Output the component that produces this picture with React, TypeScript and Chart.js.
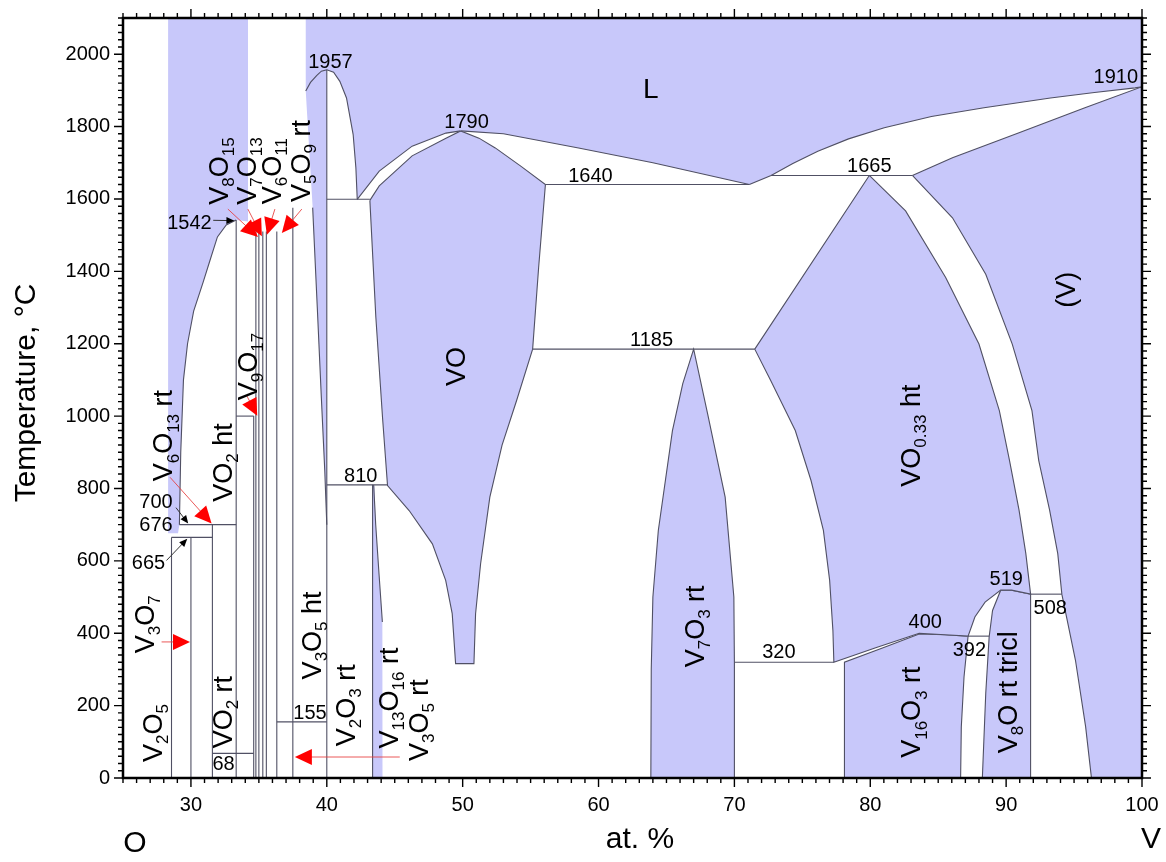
import React, { useEffect, useRef } from 'react';
import { Chart, registerables } from 'chart.js';

Chart.register(...registerables);

type P = [number, number];

const FONT = "'Liberation Sans', Arial, Helvetica, sans-serif";
const BLUE = 'rgb(200,200,250)';
const LINE = 'rgb(80,80,100)';

const X_MIN = 25;
const X_MAX = 100;
const Y_MIN = 0;
const Y_MAX = 2100;
const xMajorTicks = [30, 40, 50, 60, 70, 80, 90, 100];
const yMajorTicks = [0, 200, 400, 600, 800, 1000, 1200, 1400, 1600, 1800, 2000];

// ---------- single-phase (shaded) regions ----------
const liquidLeft: P[] = [[28.32, 2100], [34.2, 2100], [34.2, 1538], [33.33, 1542], [32.6, 1528], [31.95, 1495], [31.4, 1430], [30.9, 1370], [30.2, 1290], [29.75, 1200], [29.45, 1100], [29.25, 900], [29.15, 700], [29.05, 676], [28.32, 676]];
const liquidMain: P[] = [[38.45, 2100], [100, 2100], [100, 1910], [99.49, 1907], [96.5, 1894], [93.26, 1879], [88.37, 1852], [84.5, 1828], [81.03, 1797], [78.4, 1766], [76.14, 1732], [74.3, 1698], [72.7, 1665], [71.1, 1640], [64, 1700], [58.53, 1741], [53, 1780], [49.85, 1788], [48.77, 1782], [46.28, 1746], [43.86, 1677], [42.24, 1599], [42.14, 1686], [41.94, 1778], [41.45, 1879], [40.96, 1925], [40.5, 1950], [40, 1957], [40, 700], [39.85, 850], [39.6, 1050], [39.3, 1300], [38.96, 1576], [38.45, 1898]];
const voRegion: P[] = [[43.17, 1596], [43.86, 1636], [46.28, 1719], [48.77, 1768], [49.85, 1788], [51.2, 1768], [52.4, 1741], [54.3, 1690], [56.09, 1640], [55.59, 1410], [55.15, 1185], [53.97, 1043], [52.9, 920], [52.0, 776], [51.32, 592], [50.95, 454], [50.83, 316], [49.48, 316], [49.23, 454], [48.75, 546], [47.77, 647], [46.06, 739], [44.47, 808], [44.1, 997], [43.61, 1273], [43.17, 1596]];
const vo033Region: P[] = [[79.93, 1665], [71.5, 1185], [72.68, 1098], [74.48, 960], [75.64, 822], [76.55, 684], [77.01, 546], [77.25, 408], [77.32, 320], [80.4, 360], [83.6, 400], [85.5, 396], [87.2, 392], [87.7, 445], [88.45, 486], [89.6, 519], [90.4, 519], [91.8, 508], [91.45, 620], [90.95, 740], [90.25, 877], [89.5, 1015], [88.0, 1199], [85.55, 1383], [82.6, 1567], [79.93, 1665]];
const vSolidRegion: P[] = [[83.1, 1665], [86.05, 1714], [90.95, 1783], [95.8, 1852], [100, 1910], [100, 0], [96.28, 0], [95.85, 142], [95.1, 326], [94.1, 508], [93.8, 620], [93.2, 740], [92.4, 877], [91.9, 1015], [90.45, 1199], [88.5, 1392], [86.05, 1548], [83.1, 1665]];
const v16o3Region: P[] = [[78.1, 0], [78.1, 320], [80.8, 358], [83.6, 398], [85.5, 396], [87.2, 392], [86.9, 279], [86.7, 141], [86.65, 0], [78.1, 0]];
const v8oRegion: P[] = [[88.25, 0], [88.5, 234], [88.75, 390], [89.0, 463], [89.6, 519], [90.4, 519], [91.8, 508], [91.8, 0], [88.25, 0]];
const v7o3Region: P[] = [[63.85, 0], [63.88, 300], [64.0, 500], [64.4, 684], [65.44, 960], [66.2, 1090], [67.0, 1185], [68.03, 1006], [69.32, 776], [69.96, 500], [70.0, 320], [70.0, 0], [63.85, 0]];
const v13o16Sliver: P[] = [[43.37, 810], [43.5, 806], [43.6, 700], [43.85, 560], [44.09, 431], [44.1, 0], [43.37, 0]];

// ---------- boundary curves ----------
const vo2Liquidus: P[] = [[29.15, 700], [29.25, 900], [29.45, 1100], [29.75, 1200], [30.2, 1290], [30.9, 1370], [31.4, 1430], [31.95, 1495], [32.6, 1528], [33.33, 1542]];
const v2o3Liquidus: P[] = [[38.45, 1898], [38.8, 1922], [39.25, 1941], [39.6, 1953], [40, 1957], [40.5, 1950], [40.96, 1925], [41.45, 1879], [41.94, 1778], [42.14, 1686], [42.24, 1599]];
const v2o3Wedge: P[] = [[38.96, 1576], [39.3, 1300], [39.6, 1050], [39.85, 850], [40, 700]];
const voLiquidusLeft: P[] = [[42.24, 1599], [43.86, 1677], [46.28, 1746], [48.77, 1782], [49.85, 1788]];
const voLiquidusRight: P[] = [[49.85, 1788], [53, 1780], [58.53, 1741], [64, 1700], [71.1, 1640]];
const vLiquidus: P[] = [[71.1, 1640], [72.7, 1665], [74.3, 1698], [76.14, 1732], [78.4, 1766], [81.03, 1797], [84.5, 1828], [88.37, 1852], [93.26, 1879], [96.5, 1894], [99.49, 1907], [100, 1910]];
const v13o16Curve: P[] = [[43.45, 810], [43.6, 700], [43.85, 560], [44.09, 431]];

// compounds: [at.% V, top temperature]
const compoundLines: P[] = [[28.57, 665], [30.0, 665], [31.58, 700], [33.33, 1542], [34.62, 1000], [34.78, 1510], [35.0, 1510], [35.29, 1510], [35.55, 1510], [36.32, 1510], [37.5, 1576], [40.0, 1957], [43.37, 810]];
// isotherms: [T, from, to]
const isotherms: [number, number, number][] = [[665, 28.57, 31.58], [700, 29.15, 33.33], [1000, 33.33, 34.62], [68, 31.58, 34.62], [155, 36.32, 40], [810, 40, 44.47], [1599, 40, 43.17], [1640, 56.09, 71.1], [1665, 72.7, 83.1], [1185, 55.15, 71.5], [320, 70, 77.32], [392, 87.2, 88.75], [508, 91.8, 94.1]];

// ---------- annotations ----------
const tempLabels: [string, number, number][] = [['1957', 40.27, 1978], ['1790', 50.29, 1812], ['1910', 98.07, 1937], ['1665', 79.93, 1690], ['1640', 59.4, 1662], ['1185', 63.9, 1210], ['810', 42.5, 834], ['1542', 29.89, 1532], ['700', 27.43, 760], ['676', 27.43, 699], ['665', 26.88, 594], ['155', 38.76, 178], ['68', 32.4, 37], ['320', 73.27, 346], ['400', 84.05, 429], ['392', 87.29, 353], ['519', 90.01, 548], ['508', 93.25, 468]];
const phaseLabelsVertical: [string, number, number][] = [['VO', 49.43, 1137], ['(V)', 94.32, 1349], ['VO{0.33} ht', 82.91, 946], ['V{7}O{3} rt', 67.02, 419], ['V{16}O{3} rt', 82.98, 182], ['V{8}O rt tricl', 90.05, 237], ['V{2}O{5}', 27.13, 124], ['V{3}O{7}', 26.55, 425], ['VO{2} rt', 32.28, 182], ['VO{2} ht', 32.28, 872], ['V{6}O{13} rt', 27.91, 946], ['V{9}O{17}', 34.12, 1137], ['V{3}O{5} ht', 38.83, 394], ['V{2}O{3} rt', 41.34, 201], ['V{13}O{16} rt', 44.5, 221], ['V{3}O{5} rt', 46.71, 160], ['V{8}O{15}', 31.99, 1677], ['V{7}O{13}', 34.05, 1677], ['V{6}O{11}', 35.89, 1677], ['V{5}O{9} rt', 38.02, 1705]];
const phaseLabelsHorizontal: [string, number, number][] = [['L', 63.85, 1906]];
const redArrows: [number, number, number, number][] = [[27.84, 376, 29.93, 376], [28.46, 831, 31.52, 703], [34.1, 1057, 34.88, 1001], [32.72, 1572, 34.93, 1495], [34.19, 1572, 35.22, 1497], [36.18, 1572, 35.59, 1501], [38.16, 1572, 36.69, 1506], [45.37, 58, 37.65, 58]];
const blackArrows: [number, number, number, number][] = [[31.64, 1541, 33.2, 1540], [28.9, 747, 29.8, 703], [28.2, 601, 29.73, 661]];

function parseRich(s: string): [string, boolean][] {
  const out: [string, boolean][] = [];
  const re = /\{([^}]*)\}|([^{]+)/g;
  let m: RegExpExecArray | null;
  while ((m = re.exec(s))) {
    if (m[1] !== undefined) out.push([m[1], true]);
    else out.push([m[2], false]);
  }
  return out;
}

function drawRich(ctx: CanvasRenderingContext2D, s: string, cx: number, cy: number, rotated: boolean, size: number) {
  const segs = parseRich(s);
  const sub = Math.round(size * 0.62);
  ctx.save();
  ctx.translate(cx, cy);
  if (rotated) ctx.rotate(-Math.PI / 2);
  let total = 0;
  const widths = segs.map(([t, isSub]) => {
    ctx.font = `${isSub ? sub : size}px ${FONT}`;
    const w = ctx.measureText(t).width;
    total += w;
    return w;
  });
  ctx.textAlign = 'left';
  ctx.textBaseline = 'alphabetic';
  ctx.fillStyle = '#000';
  let x = -total / 2;
  segs.forEach(([t, isSub], i) => {
    ctx.font = `${isSub ? sub : size}px ${FONT}`;
    ctx.fillText(t, x, size * 0.36 + (isSub ? size * 0.24 : 0));
    x += widths[i];
  });
  ctx.restore();
}

function drawArrow(ctx: CanvasRenderingContext2D, x1: number, y1: number, x2: number, y2: number, head: string, line: string, hl: number, hw: number, lw: number) {
  const a = Math.atan2(y2 - y1, x2 - x1);
  const c = Math.cos(a), s = Math.sin(a);
  ctx.strokeStyle = line;
  ctx.lineWidth = lw;
  ctx.beginPath();
  ctx.moveTo(x1, y1);
  ctx.lineTo(x2 - c * hl * 0.7, y2 - s * hl * 0.7);
  ctx.stroke();
  ctx.fillStyle = head;
  ctx.beginPath();
  ctx.moveTo(x2, y2);
  ctx.lineTo(x2 - hl * c + (hw / 2) * s, y2 - hl * s - (hw / 2) * c);
  ctx.lineTo(x2 - hl * c - (hw / 2) * s, y2 - hl * s + (hw / 2) * c);
  ctx.closePath();
  ctx.fill();
}

const overlayPlugin = {
  id: 'overlay',
  afterDatasetsDraw(chart: any) {
    const ctx: CanvasRenderingContext2D = chart.ctx;
    const xs = chart.scales.x;
    const ys = chart.scales.y;
    const X = (v: number) => xs.getPixelForValue(v);
    const Y = (v: number) => ys.getPixelForValue(v);
    const { left, right, top, bottom } = chart.chartArea;
    ctx.save();

    for (const [x1, y1, x2, y2] of redArrows) drawArrow(ctx, X(x1), Y(y1), X(x2), Y(y2), '#ff0000', 'rgba(230,60,60,0.85)', 17, 16, 1);
    for (const [x1, y1, x2, y2] of blackArrows) drawArrow(ctx, X(x1), Y(y1), X(x2), Y(y2), '#000', '#333', 8, 7, 1);

    ctx.fillStyle = '#000';
    ctx.font = `20px ${FONT}`;
    ctx.textAlign = 'center';
    ctx.textBaseline = 'middle';
    for (const [t, x, y] of tempLabels) ctx.fillText(t, X(x), Y(y));

    for (const [t, x, y] of phaseLabelsVertical) drawRich(ctx, t, X(x), Y(y), true, 27);
    for (const [t, x, y] of phaseLabelsHorizontal) drawRich(ctx, t, X(x), Y(y), false, 28);

    // frame
    ctx.strokeStyle = '#000';
    ctx.lineWidth = 2.5;
    ctx.strokeRect(left, top, right - left, bottom - top);

    // ticks on all four sides (outward)
    ctx.lineWidth = 1.4;
    ctx.beginPath();
    for (let v = X_MIN; v <= X_MAX; v += 1) {
      const major = v % 10 === 0;
      const len = major ? 9 : 5;
      const px = X(v);
      ctx.moveTo(px, bottom); ctx.lineTo(px, bottom + len);
      ctx.moveTo(px, top); ctx.lineTo(px, top - len);
    }
    for (let v = Y_MIN; v <= Y_MAX; v += 20) {
      const major = v % 200 === 0 && v <= 2000;
      const len = major ? 9 : 5;
      const py = Y(v);
      ctx.moveTo(left, py); ctx.lineTo(left - len, py);
      ctx.moveTo(right, py); ctx.lineTo(right + len, py);
    }
    ctx.stroke();

    // axis titles
    ctx.fillStyle = '#000';
    ctx.font = `30px ${FONT}`;
    ctx.textAlign = 'center';
    ctx.textBaseline = 'middle';
    ctx.fillText('at. %', 640, 840);
    ctx.fillText('O', 135, 844);
    ctx.fillText('V', 1151, 840);
    ctx.save();
    ctx.translate(27, 393);
    ctx.rotate(-Math.PI / 2);
    ctx.fillText('Temperature, °C', 0, 0);
    ctx.restore();

    ctx.restore();
  },
};

const toXY = (pts: P[]) => pts.map(([x, y]) => ({ x, y }));

function region(pts: P[], border: boolean) {
  return {
    data: toXY(pts),
    backgroundColor: BLUE,
    borderColor: LINE,
    borderWidth: border ? 1.1 : 0,
    fill: 'shape',
    pointRadius: 0,
    tension: 0,
    order: 10,
  };
}

function curve(pts: P[]) {
  return {
    data: toXY(pts),
    borderColor: LINE,
    borderWidth: 1.1,
    fill: false,
    pointRadius: 0,
    tension: 0,
    order: 1,
  };
}

export default function App() {
  const ref = useRef<HTMLCanvasElement>(null);
  useEffect(() => {
    document.body.style.margin = '0';
    const datasets: any[] = [
      region(liquidLeft, false),
      region(liquidMain, false),
      region(v13o16Sliver, false),
      region(voRegion, true),
      region(vo033Region, true),
      region(vSolidRegion, true),
      region(v16o3Region, true),
      region(v8oRegion, true),
      region(v7o3Region, true),
      curve(vo2Liquidus),
      curve(v2o3Liquidus),
      curve(v2o3Wedge),
      curve(voLiquidusLeft),
      curve(voLiquidusRight),
      curve(vLiquidus),
      curve(v13o16Curve),
      ...compoundLines.map(([x, t]) => curve([[x, 0], [x, t]])),
      ...isotherms.map(([t, a, b]) => curve([[a, t], [b, t]])),
    ];
    const chart = new Chart(ref.current as HTMLCanvasElement, {
      type: 'line',
      data: { datasets },
      options: {
        responsive: false,
        animation: false,
        events: [],
        layout: { padding: { top: 18, right: 24, left: 0, bottom: 0 } },
        plugins: { legend: { display: false }, tooltip: { enabled: false } },
        scales: {
          x: {
            type: 'linear',
            min: X_MIN,
            max: X_MAX,
            afterBuildTicks: (s: any) => { s.ticks = xMajorTicks.map((v) => ({ value: v })); },
            afterFit: (s: any) => { s.height = 84; s.paddingLeft = 0; s.paddingRight = 0; },
            grid: { display: false, drawTicks: false },
            border: { display: false },
            ticks: { font: { family: FONT, size: 20 }, color: '#000', padding: 15, maxRotation: 0, autoSkip: false, callback: (v: any) => String(v) },
          },
          y: {
            type: 'linear',
            min: Y_MIN,
            max: Y_MAX,
            afterBuildTicks: (s: any) => { s.ticks = yMajorTicks.map((v) => ({ value: v })); },
            afterFit: (s: any) => { s.width = 123; s.paddingTop = 0; s.paddingBottom = 0; },
            grid: { display: false, drawTicks: false },
            border: { display: false },
            ticks: { font: { family: FONT, size: 20 }, color: '#000', padding: 13, autoSkip: false, callback: (v: any) => String(v) },
          },
        },
      } as any,
      plugins: [overlayPlugin],
    });
    return () => chart.destroy();
  }, []);
  return <canvas ref={ref} width={1166} height={862} style={{ display: 'block' }} />;
}
